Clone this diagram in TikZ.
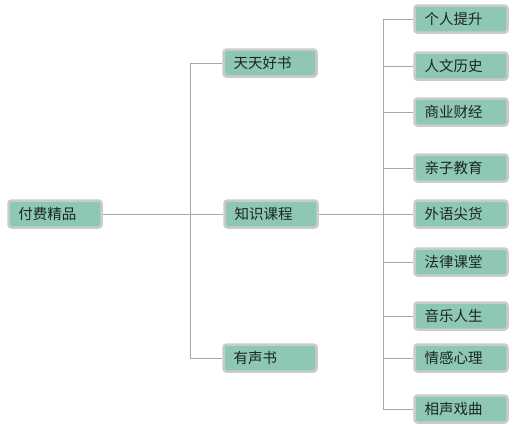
\documentclass[tikz,border=0pt]{standalone}
\usepackage{fontspec}
\setmainfont{Noto Sans CJK SC}
\begin{document}
\begin{tikzpicture}[x=1pt,y=-1pt,
  topic/.style={draw=boxedge, line width=2.5pt, fill=boxfill, rounded corners=3pt,
    minimum height=27pt, text width=73pt, inner xsep=10pt, inner ysep=0pt, align=left,
    font=\fontsize{14.5pt}{16pt}\selectfont, text=textc},
  link/.style={draw=linec, line width=0.9pt}]
\definecolor{boxfill}{HTML}{8EC7B5}
\definecolor{boxedge}{HTML}{C9CDCA}
\definecolor{textc}{HTML}{1A2622}
\definecolor{linec}{HTML}{A8A8A8}
\useasboundingbox (0,0) rectangle (515,424);
\node[topic] (root) at (55,214) {付费精品};
\node[topic] (a) at (270,63) {天天好书};
\node[topic] (b) at (271,214) {知识课程};
\node[topic] (c) at (270,358) {有声书};
\foreach \n/\y/\t in {b1/19/个人提升, b2/66/人文历史, b3/112/商业财经, b4/168/亲子教育, b5/214/外语尖货, b6/262/法律课堂, b7/316/音乐人生, b8/358/情感心理, b9/409/相声戏曲}{
  \node[topic] (\n) at (461,\y) {\t};
}
\coordinate (j1) at (190,214);
\coordinate (j2) at (383,214);
\draw[link] (root.east) -- (j1);
\foreach \n in {a,c}{
  \draw[link] (j1) |- (\n.west);
}
\draw[link] (j1) -- (b.west);
\draw[link] (b.east) -- (j2);
\foreach \n in {b1,b2,b3,b4,b5,b6,b7,b8,b9}{
  \draw[link] (j2) |- (\n.west);
}
\end{tikzpicture}
\end{document}
